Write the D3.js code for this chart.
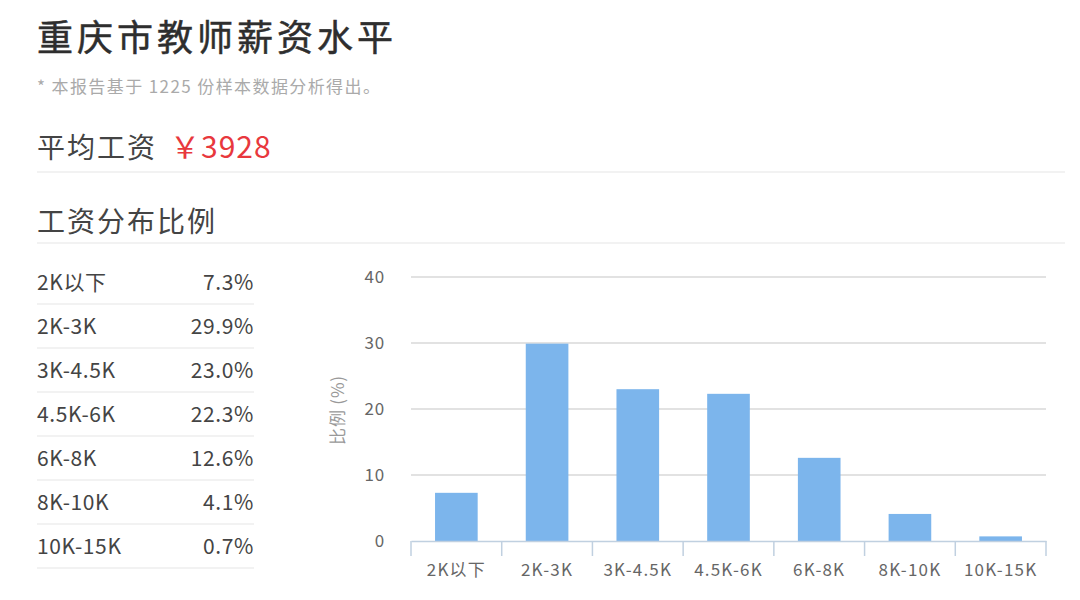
<!DOCTYPE html>
<html><head><meta charset="utf-8">
<script src="https://cdn.jsdelivr.net/npm/d3@7"></script>
<style>
html,body{margin:0;padding:0;background:#fff;}
svg text{font-family:"Noto Sans CJK SC","Noto Sans",sans-serif;}
</style></head>
<body><svg id="c" width="1080" height="600"></svg>
<script>
const title = "重庆市教师薪资水平";
const subtitle = "* 本报告基于 1225 份样本数据分析得出。";
const avgLabel = "平均工资";
const avgValue = "￥3928";
const distTitle = "工资分布比例";
const categories = ["2K以下","2K-3K","3K-4.5K","4.5K-6K","6K-8K","8K-10K","10K-15K"];
const values = [7.3, 29.9, 23.0, 22.3, 12.6, 4.1, 0.7];
const yTicks = [0, 10, 20, 30, 40];
const yTitle = "比例 (%)";

const svg = d3.select("#c");

svg.append("text").attr("x",37).attr("y",51).attr("font-size",36).attr("letter-spacing",4)
  .attr("fill","#2e2e2e").attr("stroke","#2e2e2e").attr("stroke-width",0.5).text(title);
svg.append("text").attr("x",37).attr("y",93).attr("font-size",17).attr("letter-spacing",1.4)
  .attr("fill","#aaa").text(subtitle);

const avg = svg.append("text").attr("x",37).attr("y",158).attr("font-size",28).attr("fill","#444");
avg.append("tspan").attr("letter-spacing",2).text(avgLabel);
avg.append("tspan").attr("x",170).attr("font-size",30).attr("letter-spacing",1).attr("fill","#e8383d").text(avgValue);
svg.append("line").attr("x1",37).attr("x2",1065).attr("y1",172).attr("y2",172).attr("stroke","#eee").attr("stroke-width",1.5);

svg.append("text").attr("x",37).attr("y",232).attr("font-size",28).attr("letter-spacing",2).attr("fill","#444").text(distTitle);
svg.append("line").attr("x1",37).attr("x2",1065).attr("y1",243).attr("y2",243).attr("stroke","#eee").attr("stroke-width",1.5);

// table
const rowY = d3.scaleBand().domain(categories).range([260, 568]);
const rows = svg.append("g").selectAll("g").data(categories).join("g")
  .attr("transform", d => `translate(0,${rowY(d)})`);
rows.append("text").attr("x",37).attr("y",rowY.bandwidth()/2+8).attr("font-size",21).attr("letter-spacing",0.6)
  .attr("fill","#444").text(d=>d);
rows.append("text").attr("x",254).attr("y",rowY.bandwidth()/2+8).attr("font-size",21).attr("letter-spacing",0.6)
  .attr("fill","#444").attr("text-anchor","end").text((d,i)=>values[i].toFixed(1)+"%");
rows.append("line").attr("x1",37).attr("x2",254).attr("y1",rowY.bandwidth()).attr("y2",rowY.bandwidth())
  .attr("stroke","#eee").attr("stroke-width",1.5);

// chart
const x = d3.scaleBand().domain(categories).range([411, 1046]).paddingInner(0).paddingOuter(0);
const y = d3.scaleLinear().domain([0,40]).range([541, 277]);

const grid = svg.append("g");
grid.selectAll("line").data(yTicks.filter(t=>t>0)).join("line")
  .attr("x1",411).attr("x2",1046).attr("y1",d=>y(d)).attr("y2",d=>y(d))
  .attr("stroke","#d8d8d8").attr("stroke-width",1.5);

const bw = x.bandwidth()*0.47;
svg.append("g").selectAll("rect").data(values).join("rect")
  .attr("x",(d,i)=>x(categories[i]) + (x.bandwidth()-bw)/2)
  .attr("width",bw)
  .attr("y",d=>y(d)).attr("height",d=>y(0)-y(d))
  .attr("fill","#7cb5ec");

// y axis labels
const yAxis = svg.append("g").attr("transform","translate(385,0)")
  .call(d3.axisLeft(y).tickValues(yTicks).tickSize(0).tickPadding(0));
yAxis.select(".domain").remove();
yAxis.selectAll("text").attr("font-size",17).attr("letter-spacing",0.8).attr("fill","#666").attr("text-anchor","end")
  .attr("font-family","'Noto Sans',sans-serif");

// x axis
const xAxis = svg.append("g").attr("transform",`translate(0,${y(0)})`)
  .call(d3.axisBottom(x).tickSize(0).tickPadding(23));
xAxis.select(".domain").attr("stroke","#c0d0e0").attr("stroke-width",1.5);
xAxis.selectAll("text").attr("font-size",17).attr("letter-spacing",1.2).attr("fill","#666").attr("font-family","'Noto Sans',sans-serif");
const bounds = categories.map(c=>x(c)).concat([x.range()[1]]);
xAxis.selectAll(".bt").data(bounds).join("line").attr("class","bt")
  .attr("x1",d=>d).attr("x2",d=>d).attr("y1",0).attr("y2",15)
  .attr("stroke","#c0d0e0").attr("stroke-width",1.5);

svg.append("text").attr("transform","translate(344,410) rotate(-90)")
  .attr("text-anchor","middle").attr("font-size",17).attr("letter-spacing",0.8).attr("fill","#999").text(yTitle);
</script></body></html>
